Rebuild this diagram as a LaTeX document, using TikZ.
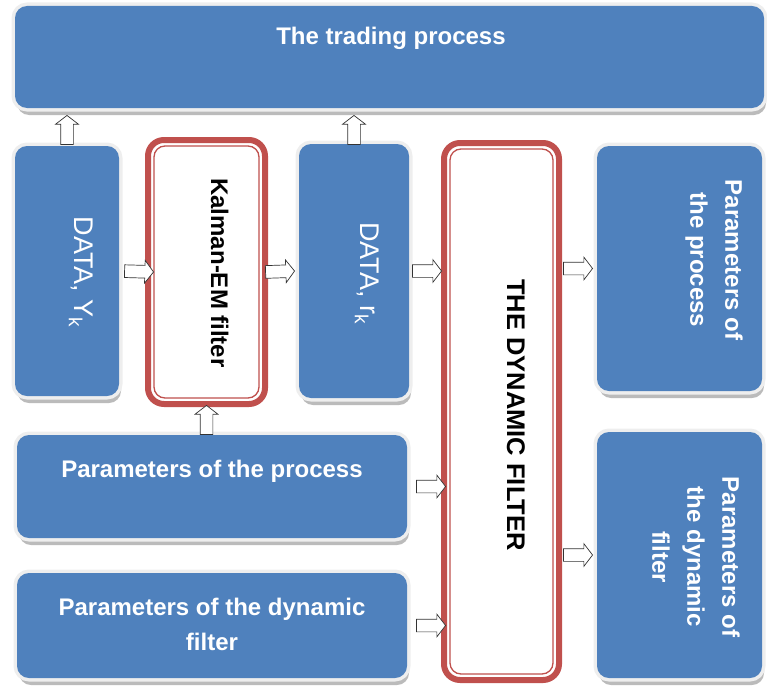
\documentclass[tikz,border=0pt]{standalone}
\usepackage{fontspec}
\setmainfont{Liberation Sans}
\usetikzlibrary{shapes.arrows,shadows}
\definecolor{boxblue}{HTML}{4F81BD}
\definecolor{boxred}{HTML}{C0504D}
\definecolor{glow}{HTML}{EEEEEE}
\definecolor{shade}{HTML}{BBBBBB}
\tikzset{
  bluebox/.style={rectangle, rounded corners=12pt, inner sep=0pt, outer sep=0pt,
    drop shadow={shadow xshift=2pt, shadow yshift=-7pt, fill=shade, opacity=1},
    preaction={draw=glow, line width=7pt}, fill=boxblue},
  redbox/.style={rectangle, rounded corners=16pt, draw=boxred, line width=6pt,
    fill=white, inner sep=0pt, outer sep=0pt},
  redinner/.style={draw=boxred, line width=1.3pt, rounded corners=11pt},
  wtext/.style={text=white, font=\fontsize{24}{35}\selectfont\bfseries, align=center, inner sep=0pt},
  dtext/.style={text=white, font=\fontsize{27}{32}\selectfont, inner sep=0pt},
  ktext/.style={text=black, font=\fontsize{24}{30}\selectfont\bfseries, inner sep=0pt},
  barrow/.style={single arrow, draw=black!80, line width=0.7pt, fill=white,
    inner xsep=0pt, inner ysep=6pt, minimum height=29pt,
    single arrow head extend=5pt, single arrow tip angle=105},
}
\begin{document}
\begin{tikzpicture}[x=1pt, y=-1pt]
\useasboundingbox (0,0) rectangle (767,690);

% blue boxes
\node[bluebox, minimum width=749pt, minimum height=102pt] (trade) at (389.5,57) {};
\node[bluebox, minimum width=104pt, minimum height=250pt] (dy) at (67,271) {};
\node[bluebox, minimum width=110pt, minimum height=254pt] (dr) at (354,271) {};
\node[bluebox, minimum width=165pt, minimum height=245pt] (r1) at (679.5,268.5) {};
\node[bluebox, minimum width=165pt, minimum height=246pt] (r2) at (679.5,555) {};
\node[bluebox, minimum width=390pt, minimum height=103pt] (pp) at (212,486.5) {};
\node[bluebox, minimum width=390pt, minimum height=105pt] (pd) at (212,625.5) {};

% red boxes
\node[redbox, minimum width=117pt, minimum height=264pt] (kal) at (206.5,272) {};
\draw[redinner] ([shift={(6pt,-6pt)}]kal.north west) rectangle ([shift={(-6pt,6pt)}]kal.south east);
\node[redbox, minimum width=115pt, minimum height=537pt] (dyn) at (501.5,411.5) {};
\draw[redinner] ([shift={(6pt,-6pt)}]dyn.north west) rectangle ([shift={(-6pt,6pt)}]dyn.south east);

% texts
\node[wtext, anchor=base] (ttrade) at (391,45) {The trading process};
\node[dtext, rotate=-90, anchor=base] (tdy) at (74,272) {DATA, Y\textsubscript{k}};
\node[dtext, rotate=-90, anchor=base] (tdr) at (360,273) {DATA, r\textsubscript{k}};
\node[ktext, rotate=-90, anchor=base] (tkal) at (211,273) {Kalman-EM filter};
\node[ktext, rotate=-90, anchor=base, font=\fontsize{25.5}{30}\selectfont\bfseries] (tdyn) at (507,415) {THE DYNAMIC FILTER};
\node[wtext, rotate=-90, anchor=center] (tr1) at (714,260) {Parameters of\\the process};
\node[wtext, rotate=-90, anchor=center] (tr2) at (696,557) {Parameters of\\the dynamic\\filter};
\node[wtext, anchor=base] (tpp) at (212,477) {Parameters of the process};
\node[wtext, anchor=center] (tpd) at (212,624) {Parameters of the dynamic\\filter};

% block arrows
\path (dy.north) -- ([yshift=-7pt]dy.north |- trade.south) node[barrow, pos=1, sloped, anchor=tip] (a1) {};
\path (dr.north) -- ([yshift=-7pt]dr.north |- trade.south) node[barrow, pos=1, sloped, anchor=tip] (a2) {};
\path (dy.east) -- ([xshift=6pt]kal.west) node[barrow, pos=1, sloped, anchor=tip] (a3) {};
\path (kal.east) -- ([xshift=-4pt]dr.west) node[barrow, pos=1, sloped, anchor=tip] (a4) {};
\path (dr.east) -- ([xshift=-2pt]dr.east -| dyn.west) node[barrow, pos=1, sloped, anchor=tip] (a5) {};
\path (pp.north -| kal.south) -- ([yshift=-1pt]kal.south) node[barrow, pos=1, sloped, anchor=tip] (a6) {};
\path (dyn.east |- r1.west) -- ([xshift=-4pt]r1.west) node[barrow, pos=1, sloped, anchor=tip] (a7) {};
\path (dyn.east |- r2.west) -- ([xshift=-4pt]r2.west) node[barrow, pos=1, sloped, anchor=tip] (a8) {};
\path (pp.east) -- ([xshift=2pt]pp.east -| dyn.west) node[barrow, pos=1, sloped, anchor=tip] (a9) {};
\path (pd.east) -- ([xshift=2pt]pd.east -| dyn.west) node[barrow, pos=1, sloped, anchor=tip] (a10) {};
\end{tikzpicture}
\end{document}
